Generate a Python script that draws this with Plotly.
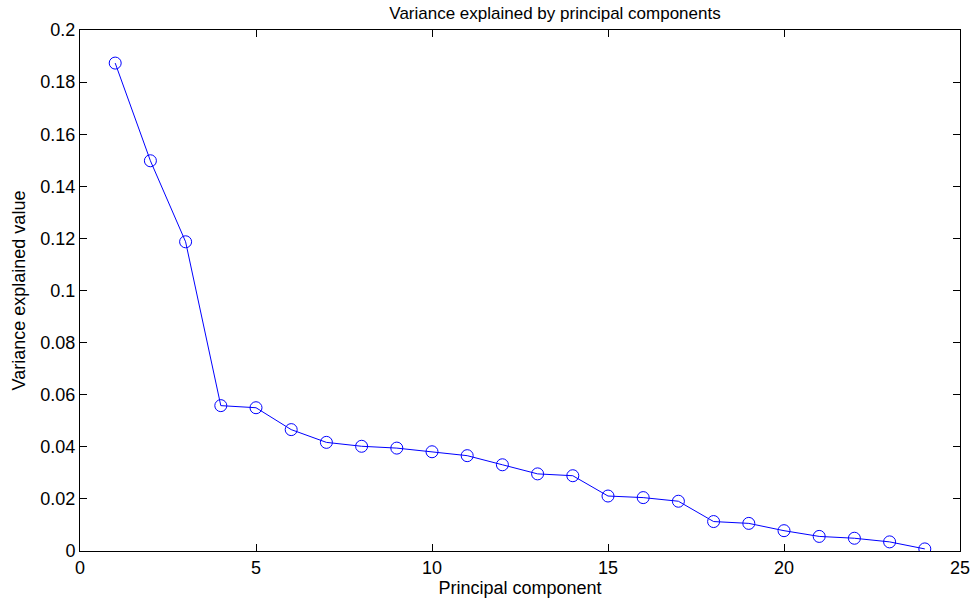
import plotly.graph_objects as go

components = list(range(1, 25))
variance = [0.1873, 0.1498, 0.1187, 0.0558, 0.0550, 0.0466, 0.0417, 0.0402,
            0.0395, 0.0381, 0.0366, 0.0331, 0.0296, 0.0289, 0.0211, 0.0205,
            0.0191, 0.0113, 0.0106, 0.0078, 0.0056, 0.0049, 0.0035, 0.0008]

x_ticks = [0, 5, 10, 15, 20, 25]
x_tick_labels = ["0", "5", "10", "15", "20", "25"]
y_ticks = [0, 0.02, 0.04, 0.06, 0.08, 0.1, 0.12, 0.14, 0.16, 0.18, 0.2]
y_tick_labels = ["0", "0.02", "0.04", "0.06", "0.08", "0.1", "0.12", "0.14", "0.16", "0.18", "0.2"]

fig = go.Figure(go.Scatter(
    x=components, y=variance, mode="lines+markers",
    line=dict(color="#0000ff", width=1),
    marker=dict(symbol="circle-open", size=12, color="#0000ff", line=dict(width=1)),
))

font = "Liberation Sans, Arial, Helvetica, sans-serif"
fig.update_layout(
    width=972, height=601,
    margin=dict(l=80, r=12, t=30, b=50, autoexpand=False),
    paper_bgcolor="white", plot_bgcolor="white",
    showlegend=False,
    font=dict(family=font, size=18, color="black"),
    title=dict(text="Variance explained by principal components", x=0.571, xanchor="center",
               y=1 - 13 / 601, yanchor="middle", font=dict(size=17, family=font, color="black")),
)
fig.update_xaxes(
    range=[0, 25], tickvals=x_ticks, ticktext=x_tick_labels,
    ticks="inside", ticklen=7, tickcolor="black", showline=True, linecolor="black", linewidth=1,
    mirror="ticks", showgrid=False, zeroline=False, automargin=False,
    title=dict(text="Principal component", standoff=4, font=dict(size=18)),
)
fig.update_yaxes(
    range=[0, 0.2], tickvals=y_ticks, ticktext=y_tick_labels,
    ticks="inside", ticklen=7, tickcolor="black", showline=True, linecolor="black", linewidth=1,
    mirror="ticks", showgrid=False, zeroline=False, automargin=False,
    title=dict(text="Variance explained value", standoff=10, font=dict(size=18)),
)

fig.write_html("out.html", config={"displayModeBar": False},
               post_script="document.body.style.margin='0px';")
